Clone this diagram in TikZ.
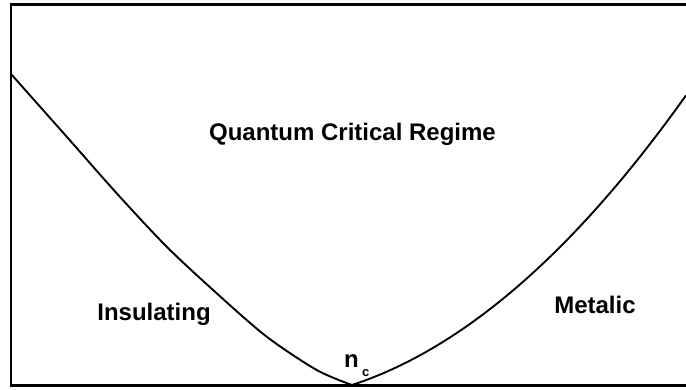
\documentclass[tikz,border=0pt]{standalone}
\usepackage{fontspec}
\setmainfont{Liberation Sans}
\begin{document}
\begin{tikzpicture}[x=1pt,y=-1pt,
  lbl/.style={font=\bfseries\fontsize{24}{28}\selectfont, inner sep=0pt, anchor=base},
  sub/.style={font=\bfseries\fontsize{13}{15}\selectfont, inner sep=0pt, anchor=base west},
  frame/.style={line width=2.4pt},
  curve/.style={line width=1.9pt, line join=round}]
\useasboundingbox (0,0) rectangle (686,390);
\draw[frame] (686,4.5) -- (11,4.5) -- (11,385.5) -- (686,385.5);
\draw[curve] plot[smooth] coordinates {(11,74) (66.7,136.7) (116.7,193.3) (166.7,246.7) (216.7,293.3) (266.7,336.7) (316.7,370) (352,385)};
\draw[curve] plot[domain=0:334, samples=60] ({352+\x}, {385-(0.327*\x+0.001611*\x*\x)});
\node[lbl] (qcr) at (352.5,141) {Quantum Critical Regime};
\node[lbl] (ins) at (154,321) {Insulating};
\node[lbl] (met) at (595,313) {Metalic};
\node[lbl, anchor=base west] (n) at (344,367) {n};
\node[sub] (c) at (362,377) {c};
\end{tikzpicture}
\end{document}
